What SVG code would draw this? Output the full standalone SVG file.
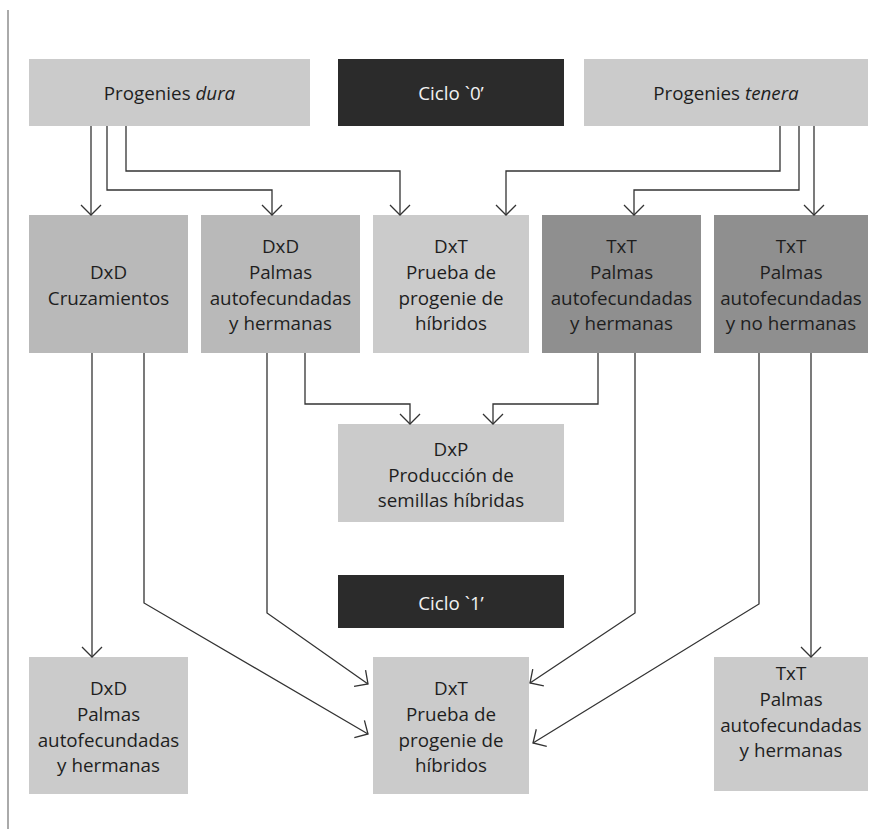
<svg xmlns="http://www.w3.org/2000/svg" width="877" height="829" viewBox="0 0 877 829">
<style>
text{font-family:"Open Sans","Liberation Sans",sans-serif;font-size:18.8px;fill:#1e1e1e;text-anchor:middle}
.light{fill:#cbcbcb}
.mid{fill:#b9b9b9}
.dark{fill:#8f8f8f}
.black{fill:#2b2b2b}
.wt{fill:#f2f2f2}
.c{fill:none;stroke:#333;stroke-width:1.3}
</style>
<defs>
<marker id="ah" markerUnits="userSpaceOnUse" markerWidth="24" markerHeight="24" viewBox="-12 -12 24 24" refX="0" refY="0" orient="auto" overflow="visible">
<path d="M-10,-10 L0,0 L-10,10" fill="none" stroke="#333" stroke-width="1.3"/>
</marker>
</defs>
<rect width="877" height="829" fill="#fff"/>
<line x1="8" y1="10" x2="8" y2="829" stroke="#aaa" stroke-width="2"/>

<g id="dura"><rect class="light" x="29" y="59" width="281" height="67"/><text x="169.5" y="100">Progenies <tspan font-style="italic">dura</tspan></text></g>
<g id="ciclo0"><rect class="black" x="338" y="59" width="226" height="67"/><text class="wt" x="451" y="100">Ciclo `0’</text></g>
<g id="tenera"><rect class="light" x="584" y="59" width="284" height="67"/><text x="726" y="100">Progenies <tspan font-style="italic">tenera</tspan></text></g>

<g id="dxd_cruz"><rect class="mid" x="29" y="215" width="159" height="138"/><text x="108.5" y="279">DxD</text><text x="108.5" y="305">Cruzamientos</text></g>
<g id="dxd_palmas"><rect class="mid" x="201" y="215" width="159" height="138"/><text x="280.5" y="253">DxD</text><text x="280.5" y="279">Palmas</text><text x="280.5" y="305">autofecundadas</text><text x="280.5" y="330">y hermanas</text></g>
<g id="dxt_prueba"><rect class="light" x="373" y="215" width="156" height="138"/><text x="451" y="253">DxT</text><text x="451" y="279">Prueba de</text><text x="451" y="305">progenie de</text><text x="451" y="330">híbridos</text></g>
<g id="txt_palmas"><rect class="dark" x="542" y="215" width="159" height="138"/><text x="621.5" y="253">TxT</text><text x="621.5" y="279">Palmas</text><text x="621.5" y="305">autofecundadas</text><text x="621.5" y="330">y hermanas</text></g>
<g id="txt_nohermanas"><rect class="dark" x="714" y="215" width="154" height="138"/><text x="791" y="253">TxT</text><text x="791" y="279">Palmas</text><text x="791" y="305">autofecundadas</text><text x="791" y="330">y no hermanas</text></g>

<g id="dxp"><rect class="light" x="338" y="424" width="226" height="98"/><text x="451" y="456">DxP</text><text x="451" y="482">Producción de</text><text x="451" y="507">semillas híbridas</text></g>
<g id="ciclo1"><rect class="black" x="338" y="575" width="226" height="53"/><text class="wt" x="451" y="610">Ciclo `1’</text></g>

<g id="dxd_palmas2"><rect class="light" x="29" y="657" width="159" height="137"/><text x="108.5" y="695">DxD</text><text x="108.5" y="721">Palmas</text><text x="108.5" y="747">autofecundadas</text><text x="108.5" y="772">y hermanas</text></g>
<g id="dxt_prueba2"><rect class="light" x="373" y="657" width="156" height="137"/><text x="451" y="695">DxT</text><text x="451" y="721">Prueba de</text><text x="451" y="747">progenie de</text><text x="451" y="772">híbridos</text></g>
<g id="txt_palmas2"><rect class="light" x="714" y="657" width="154" height="134"/><text x="791" y="680">TxT</text><text x="791" y="706">Palmas</text><text x="791" y="732">autofecundadas</text><text x="791" y="757">y hermanas</text></g>

<g id="connectors" class="c">
<path class="c" marker-end="url(#ah)" d="M91,126 V215"/>
<path class="c" marker-end="url(#ah)" d="M107,126 V190 H272 V215"/>
<path class="c" marker-end="url(#ah)" d="M126,126 V171 H400 V215"/>
<path class="c" marker-end="url(#ah)" d="M780,126 V171 H506 V215"/>
<path class="c" marker-end="url(#ah)" d="M799,126 V190 H634 V215"/>
<path class="c" marker-end="url(#ah)" d="M814,126 V215"/>
<path class="c" marker-end="url(#ah)" d="M305,353 V404 H410 V424"/>
<path class="c" marker-end="url(#ah)" d="M598,353 V404 H493 V424"/>
<path class="c" marker-end="url(#ah)" d="M92,353 V657"/>
<path class="c" marker-end="url(#ah)" d="M144,353 V603 L368,734"/>
<path class="c" marker-end="url(#ah)" d="M267,353 V613 L368,684"/>
<path class="c" marker-end="url(#ah)" d="M635,353 V613 L530,683"/>
<path class="c" marker-end="url(#ah)" d="M759,353 V604 L533,743"/>
<path class="c" marker-end="url(#ah)" d="M811,353 V657"/>
</g>
</svg>
